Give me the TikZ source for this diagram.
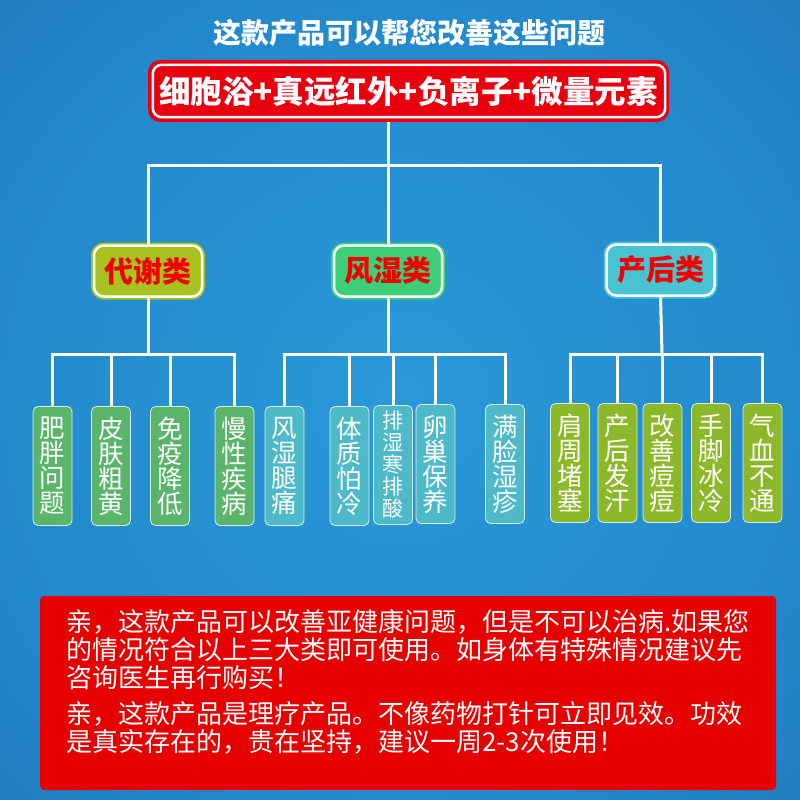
\documentclass[tikz,border=0pt]{standalone}
\usepackage{fontspec}
\newfontfamily\cjk{Noto Sans CJK SC}
\definecolor{bgin}{HTML}{2A99DA}
\definecolor{bgmid}{HTML}{2288CB}
\definecolor{bgout}{HTML}{255C92}
\definecolor{topred}{HTML}{E8000F}
\definecolor{botred}{HTML}{E60000}
\definecolor{catred}{HTML}{F20000}
\definecolor{cyellow}{HTML}{A8C21F}
\definecolor{cgreen}{HTML}{3DCF78}
\definecolor{ccyan}{HTML}{47C3D2}
\definecolor{lgreen}{HTML}{5AB56B}
\definecolor{lteal}{HTML}{4DB9C9}
\definecolor{lolive}{HTML}{8DB82A}
\definecolor{leafedge}{HTML}{D5EEF0}
\pgfdeclareradialshading{bgshade}{\pgfpoint{0bp}{0bp}}{color(0bp)=(bgin); color(22bp)=(bgmid); color(50bp)=(bgout); color(100bp)=(bgout)}
\begin{document}
\begin{tikzpicture}[x=1pt,y=-1pt,
  conn/.style={draw=white, line width=3},
  leaf/.style={draw=leafedge, line width=0.8, rounded corners=5, minimum width=39, minimum height=119, inner sep=0pt, text=white, align=center, font=\cjk\fontsize{25.5}{25}\selectfont},
  leafsmall/.style={leaf, font=\cjk\fontsize{21}{22}\selectfont},
  cat/.style={draw=white, line width=2.5, rounded corners=10, minimum width=108, minimum height=51, inner sep=0pt, text=catred, font=\cjk\bfseries\fontsize{29}{29}\selectfont},
  btxt/.style={anchor=west, inner sep=0pt, text=white, font=\cjk\fontsize{26}{28}\selectfont}
]
\useasboundingbox (0,0) rectangle (800,800);
\begin{scope}
\clip (0,0) rectangle (800,800);
\shade[shading=bgshade] (-100,-100) rectangle (900,900);
\end{scope}

% title
\node[text=white, font=\cjk\bfseries\fontsize{28}{28}\selectfont] (title) at (409,33) {这款产品可以帮您改善这些问题};

% top red box
\node[fill=topred, rounded corners=12, minimum width=521, minimum height=62, inner sep=0pt,
      text=white, font=\cjk\bfseries\fontsize{31.5}{31.5}\selectfont] (top) at (408.5,91) {细胞浴+真远红外+负离子+微量元素};
\draw[white, line width=2.5, rounded corners=9] ([shift={(5,5)}]top.north west) rectangle ([shift={(-4,-5)}]top.south east);

% categories
\node[cat, fill=cyellow, preaction={draw=cyellow, line width=6, rounded corners=10}] (c1) at (148,271) {代谢类};
\node[cat, fill=cgreen, preaction={draw=cgreen, line width=6, rounded corners=10}] (c2) at (388,271) {风湿类};
\node[cat, fill=ccyan, preaction={draw=ccyan, line width=6, rounded corners=10}] (c3) at (660.5,270) {产后类};

\coordinate (bus0) at (388,165);
\draw[conn] (top.south -| c2.north) -- (c2.north);
\draw[conn] (c1.north) |- (bus0) -| (c3.north);

% leaves
\node[leaf, fill=lgreen] (l1) at (52.5,466) {肥\\胖\\问\\题};
\node[leaf, fill=lgreen] (l2) at (111,466) {皮\\肤\\粗\\黄};
\node[leaf, fill=lgreen] (l3) at (170,466) {免\\疫\\降\\低};
\node[leaf, fill=lgreen] (l4) at (234.5,466) {慢\\性\\疾\\病};
\node[leaf, fill=lteal] (l5) at (284.5,466) {风\\湿\\腿\\痛};
\node[leaf, fill=lteal] (l6) at (349.5,466) {体\\质\\怕\\冷};
\node[leafsmall, fill=lteal] (l7) at (393,465) {排\\湿\\寒\\排\\酸};
\node[leaf, fill=lteal] (l8) at (435.5,464) {卵\\巢\\保\\养};
\node[leaf, fill=lteal] (l9) at (505,464) {满\\脸\\湿\\疹};
\node[leaf, fill=lolive] (l10) at (570,463) {肩\\周\\堵\\塞};
\node[leaf, fill=lolive] (l11) at (617.5,463) {产\\后\\发\\汗};
\node[leaf, fill=lolive] (l12) at (662.5,463) {改\\善\\痘\\痘};
\node[leaf, fill=lolive] (l13) at (711,463) {手\\脚\\冰\\冷};
\node[leaf, fill=lolive] (l14) at (762.5,463) {气\\血\\不\\通};

% buses
\coordinate (b1) at (148,354);
\coordinate (b2) at (388,354);
\coordinate (b3) at (662,354);
\draw[conn] (c1.south) -- (b1);
\draw[conn] (c2.south) -- (b2);
\draw[conn] (c3.south) -- (b3);
\draw[conn] (l1.north) |- (b1) -| (l4.north);
\draw[conn] (b1) -| (l2.north);
\draw[conn] (b1) -| (l3.north);
\draw[conn] (l5.north) |- (b2) -| (l9.north);
\draw[conn] (b2) -| (l6.north);
\draw[conn] (b2) -| (l7.north);
\draw[conn] (b2) -| (l8.north);
\draw[conn] (l10.north) |- (b3) -| (l14.north);
\draw[conn] (b3) -| (l11.north);
\draw[conn] (b3) -| (l12.north);
\draw[conn] (b3) -| (l13.north);

% bottom box
\node[fill=botred, rounded corners=4, minimum width=736, minimum height=194, inner sep=0pt] (bot) at (408,693) {};
\node[btxt] (t1) at (66,622) {亲，这款产品可以改善亚健康问题，但是不可以治病.如果您};
\node[btxt] (t2) at (66,650) {的情况符合以上三大类即可使用。如身体有特殊情况建议先};
\node[btxt] (t3) at (66,678) {咨询医生再行购买！};
\node[btxt] (t4) at (66,714) {亲，这款产品是理疗产品。不像药物打针可立即见效。功效};
\node[btxt] (t5) at (66,742) {是真实存在的，贵在坚持，建议一周2-3次使用！};
\end{tikzpicture}
\end{document}
